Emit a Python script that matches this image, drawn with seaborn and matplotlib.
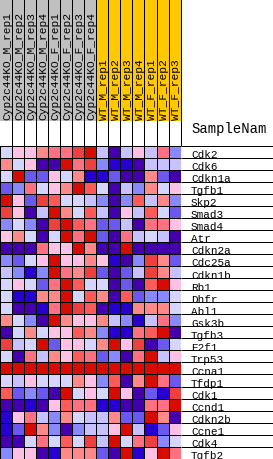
import numpy as np
import pandas as pd
import matplotlib
matplotlib.use("Agg")
import matplotlib.pyplot as plt
import matplotlib.transforms as mtransforms
from matplotlib.colors import ListedColormap
import seaborn as sns

# ---------------- data ----------------
samples = ["Cyp2c44KO_M_rep1", "Cyp2c44KO_M_rep2", "Cyp2c44KO_M_rep3", "Cyp2c44KO_M_rep4",
           "Cyp2c44KO_F_rep1", "Cyp2c44KO_F_rep2", "Cyp2c44KO_F_rep3", "Cyp2c44KO_F_rep4",
           "WT_M_rep1", "WT_M_rep2", "WT_M_rep3", "WT_M_rep4",
           "WT_F_rep1", "WT_F_rep2", "WT_F_rep3"]
groups = [0, 0, 0, 0, 0, 0, 0, 0, 1, 1, 1, 1, 1, 1, 1]   # 0 = Cyp2c44KO, 1 = WT

genes = ["Cdk2", "Cdk6", "Cdkn1a", "Tgfb1", "Skp2", "Smad3", "Smad4", "Atr", "Cdkn2a",
         "Cdc25a", "Cdkn1b", "Rb1", "Dhfr", "Abl1", "Gsk3b", "Tgfb3", "E2f1", "Trp53",
         "Ccna1", "Tfdp1", "Cdk1", "Ccnd1", "Cdkn2b", "Ccne1", "Cdk4", "Tgfb2"]

# expression level bins (0 = lowest / dark blue ... 11 = highest / dark red)
levels = [
    [5, 6, 6, 7, 8, 8, 10, 11, 4, 0, 4, 6, 4, 8, 3],
    [7, 5, 6, 0, 0, 11, 8, 10, 3, 1, 1, 0, 4, 4, 4],
    [5, 11, 2, 2, 6, 5, 7, 1, 1, 2, 0, 0, 7, 2, 0],
    [2, 3, 8, 5, 6, 7, 11, 9, 5, 0, 4, 3, 7, 5, 6],
    [11, 6, 2, 10, 9, 5, 5, 4, 3, 0, 3, 9, 4, 7, 3],
    [10, 6, 0, 4, 11, 7, 5, 9, 4, 0, 6, 4, 9, 5, 2],
    [3, 5, 3, 0, 10, 11, 9, 8, 2, 2, 4, 0, 8, 8, 6],
    [6, 7, 5, 0, 5, 11, 8, 11, 2, 0, 8, 4, 5, 4, 0],
    [0, 0, 0, 8, 6, 6, 11, 7, 0, 0, 11, 0, 0, 0, 0],
    [3, 2, 5, 6, 11, 6, 6, 7, 6, 1, 0, 3, 10, 7, 2],
    [4, 3, 1, 3, 11, 8, 7, 10, 2, 0, 2, 4, 10, 7, 4],
    [5, 6, 5, 2, 8, 11, 9, 5, 5, 0, 2, 0, 9, 11, 6],
    [5, 1, 1, 7, 7, 11, 5, 9, 7, 0, 9, 2, 3, 3, 5],
    [5, 0, 0, 1, 8, 11, 10, 9, 0, 1, 1, 7, 7, 7, 5],
    [7, 5, 3, 0, 11, 7, 6, 6, 7, 4, 3, 1, 4, 8, 3],
    [0, 5, 7, 5, 6, 6, 9, 7, 3, 1, 1, 8, 9, 11, 0],
    [10, 4, 5, 11, 2, 6, 6, 5, 7, 11, 6, 10, 0, 2, 5],
    [5, 0, 8, 4, 7, 6, 9, 8, 2, 3, 0, 8, 11, 4, 6],
    [11, 11, 11, 11, 11, 11, 11, 11, 11, 11, 11, 11, 11, 11, 11],
    [5, 4, 6, 5, 5, 5, 7, 6, 3, 9, 0, 7, 11, 8, 2],
    [9, 2, 3, 2, 0, 11, 5, 6, 5, 11, 6, 0, 2, 1, 10],
    [0, 0, 1, 0, 6, 9, 8, 8, 1, 1, 0, 0, 8, 8, 11],
    [1, 6, 8, 4, 3, 7, 5, 4, 4, 7, 2, 2, 11, 7, 0],
    [1, 2, 11, 7, 3, 0, 3, 4, 4, 6, 11, 4, 1, 2, 6],
    [0, 0, 5, 8, 5, 9, 5, 10, 4, 11, 5, 8, 10, 3, 5],
    [3, 6, 6, 0, 1, 7, 7, 7, 2, 0, 11, 1, 6, 11, 8],
]

palette = ["#4500AD", "#2700D1", "#6B58EF", "#8888FF", "#C7C1FF", "#D5D5FF",
           "#FFC0E5", "#FF8989", "#FF7080", "#FF5A5A", "#EF4040", "#D60C00"]
group_palette = ["#C0C0C0", "#FFC800"]

# ---------------- layout (pixels) ----------------
W, H = 273, 460
cw = 12.04
ncol, nrow = len(samples), len(genes)
grid_top = 146.7
head_bot = 121.7
hm_w = ncol * cw
hm_h = nrow * cw
px = 0.72  # one pixel in points
font = ["Liberation Mono", "DejaVu Sans Mono"]

fig = plt.figure(figsize=(W / 100, H / 100), dpi=100)

# main heatmap
df = pd.DataFrame(levels, index=genes, columns=samples)
ax = fig.add_axes([0, (H - grid_top - hm_h) / H, hm_w / W, hm_h / H])
sns.heatmap(df, ax=ax, cmap=ListedColormap(palette), vmin=-0.5, vmax=len(palette) - 0.5,
            cbar=False, linewidths=px, linecolor="black",
            xticklabels=False, yticklabels=False)
ax.set_xlabel("")
ax.set_ylabel("")

# header strip (sample groups)
hdf = pd.DataFrame([groups], columns=samples)
hax = fig.add_axes([0, (H - head_bot) / H, hm_w / W, head_bot / H])
sns.heatmap(hdf, ax=hax, cmap=ListedColormap(group_palette), vmin=-0.5, vmax=1.5,
            cbar=False, xticklabels=False, yticklabels=False)
hax.set_xlabel("")
hax.set_ylabel("")

# vertical separators through header region
vax = fig.add_axes([0, (H - grid_top) / H, hm_w / W, grid_top / H])
vax.set_xlim(0, ncol)
vax.set_ylim(0, 1)
vax.axis("off")
vax.patch.set_alpha(0)
vax.vlines(np.arange(1, ncol + 1), 0, 1, color="black", lw=px, clip_on=False)

# column labels
for j, name in enumerate(samples):
    tr = mtransforms.offset_copy(hax.transData, fig=fig, x=0.3, y=2.2, units="dots")
    hax.text(j + 1, 1, name, transform=tr, rotation=90, ha="right", va="bottom",
             fontsize=8.1, family=font, color="black")

# label area with row underlines
lax = fig.add_axes([hm_w / W, (H - grid_top - hm_h) / H, (W - hm_w) / W, hm_h / H])
lax.set_xlim(0, 1)
lax.set_ylim(nrow, 0)
lax.axis("off")
lax.patch.set_alpha(0)
lax.hlines(np.arange(0, nrow + 1), 0, 1, color="black", lw=px, clip_on=False)
for i, g in enumerate(genes):
    tr = mtransforms.offset_copy(lax.transData, fig=fig, x=10.4, y=0.6, units="dots")
    lax.text(0, i + 1, g, transform=tr, ha="left", va="baseline",
             fontsize=7.9, family=font, color="black")
tr = mtransforms.offset_copy(lax.transData, fig=fig, x=11, y=13.5, units="dots")
lax.text(0, 0, "SampleNam", transform=tr, ha="left", va="baseline",
         fontsize=10, family=font, color="black")

fig.savefig("out.png", dpi=100)
